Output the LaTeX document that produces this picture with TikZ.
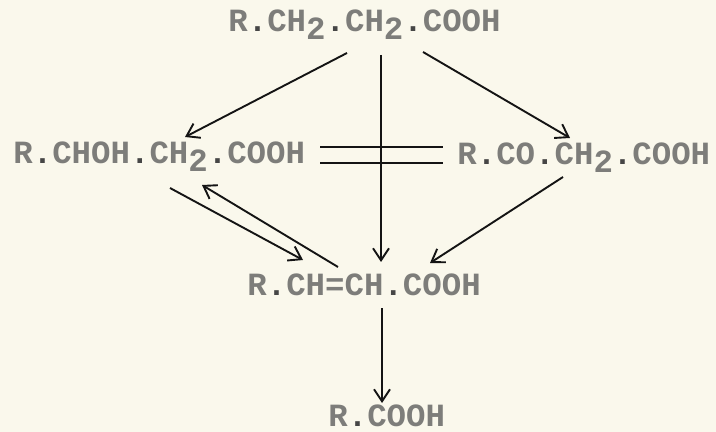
\documentclass[tikz,border=0pt]{standalone}
\usepackage{fontspec}
\newfontfamily\typewriter{Liberation Mono}
\usetikzlibrary{arrows.meta,calc}
\definecolor{xpaper}{RGB}{250,248,236}
\definecolor{xink}{RGB}{125,125,122}
\definecolor{xdot}{RGB}{70,70,70}
\definecolor{xline}{RGB}{20,20,20}
\newcommand{\tsub}[1]{\raisebox{-4pt}{#1}}
\newcommand{\dt}{{\color{xdot}.}}

\begin{document}
\begin{tikzpicture}[x=0.5pt, y=-0.5pt,
  chem/.style={anchor=base west, inner sep=0pt, text=xink,
               font=\typewriter\bfseries\fontsize{16.2}{18}\selectfont},
  arr/.style={-{Straight Barb[length=6pt,width=8pt]}, line width=0.95pt, color=xline},
  eqline/.style={line width=1pt, color=xline}
]
  \fill[xpaper] (0,0) rectangle (716,432);

  % compounds
  \node[chem] (acyl)    at (228,32)  {R\dt CH\tsub{2}\dt CH\tsub{2}\dt COOH};
  \node[chem] (hydroxy) at (13,164)  {R\dt CHOH\dt CH\tsub{2}\dt COOH};
  \node[chem] (keto)    at (457,165) {R\dt CO\dt CH\tsub{2}\dt COOH};
  \node[chem] (enoyl)   at (247,296) {R\dt CH=CH\dt COOH};
  \node[chem] (short)   at (328,426) {R\dt COOH};

  % equilibrium
  \draw[eqline] ($(hydroxy.base east)+(15,-17)$) -- ($(keto.base west)+(-14,-18)$);
  \draw[eqline] ($(hydroxy.base east)+(15,-1)$)  -- ($(keto.base west)+(-14,-2)$);

  % conversions
  \draw[arr] ($(acyl.base west)+(119,21)$)  -- ($(hydroxy.base west)+(172,-27)$);
  \draw[arr] ($(acyl.base west)+(195,20)$)  -- ($(keto.base west)+(113,-27)$);
  \draw[arr] ($(acyl.base west)+(153,23)$)  -- ($(enoyl.base west)+(134,-34)$);
  \draw[arr] ($(hydroxy.base west)+(157,24)$) -- ($(enoyl.base west)+(56,-36)$);
  \draw[arr] ($(enoyl.base west)+(91,-29)$) -- ($(hydroxy.base west)+(189,21)$);
  \draw[arr] ($(keto.base west)+(106,12)$)  -- ($(enoyl.base west)+(183,-33)$);
  \draw[arr] ($(enoyl.base west)+(135,12)$) -- ($(short.base west)+(54,-23)$);
\end{tikzpicture}
\end{document}
